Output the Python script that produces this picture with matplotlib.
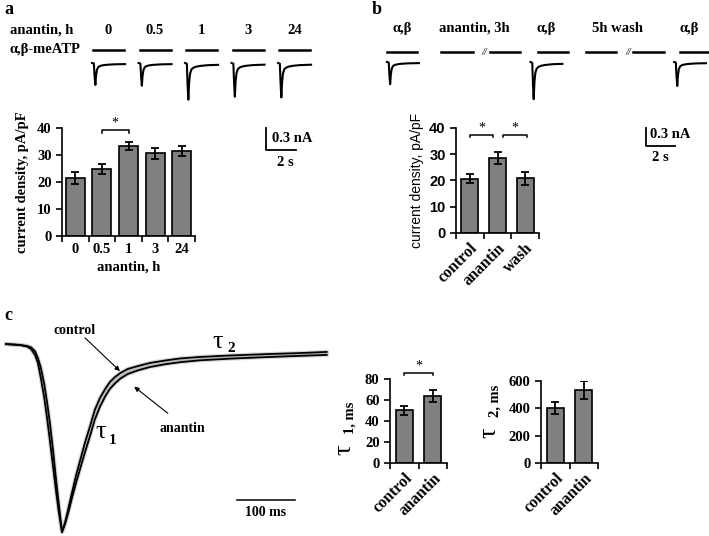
import numpy as np
import matplotlib.pyplot as plt

plt.rcParams['font.family'] = 'Liberation Serif'
plt.rcParams['font.weight'] = 'bold'
plt.rcParams['axes.labelweight'] = 'bold'
plt.rcParams['axes.linewidth'] = 1.2

W, H = 709, 536

# bar chart data
a_labels = ['0', '0.5', '1', '3', '24']
a_mean = [21.5, 24.8, 33.3, 30.6, 31.6]
a_sem = [2.2, 1.9, 1.4, 1.9, 1.9]

b_labels = ['control', 'anantin', 'wash']
b_mean = [20.7, 28.6, 20.9]
b_sem = [1.7, 2.3, 2.5]

tau_labels = ['control', 'anantin']
tau1_mean = [50.2, 64.0]
tau1_sem = [4.2, 5.8]
tau2_mean = [402, 532]
tau2_sem = [44, 66]

# example current traces (s, fraction of peak), peak amplitudes in nA
trace_t = [0, 0.12, 0.17, 0.22, 0.27, 0.33, 0.42, 0.55, 0.75, 1.0, 1.5, 2.2]
trace_shape = [0, -0.02, -0.6, -1.0, -0.55, -0.3, -0.18, -0.13, -0.1, -0.08, -0.06, -0.05]
a_amp = [0.30, 0.31, 0.50, 0.46, 0.47]
b_amp = [0.37, 0.62, 0.40]

# averaged traces panel c (ms, normalised current)
c_t = [0, 24, 36, 43, 50, 55, 60, 66, 71, 76, 81, 86, 91, 96.6, 102, 107, 114, 121, 128, 136, 145,
       153, 162, 171, 179, 188, 197, 210, 228, 248, 274, 300, 334, 386, 455, 507, 553]
c_control = [0.005, 0.0, -0.008, -0.021, -0.053, -0.096, -0.176, -0.283, -0.396, -0.519, -0.647,
             -0.775, -0.893, -1.0, -0.947, -0.882, -0.786, -0.695, -0.615, -0.524, -0.433, -0.348,
             -0.283, -0.235, -0.198, -0.171, -0.150, -0.128, -0.112, -0.096, -0.083, -0.072, -0.064,
             -0.056, -0.048, -0.043, -0.037]
c_anantin = [0.005, 0.0, -0.005, -0.012, -0.033, -0.07, -0.12, -0.21, -0.31, -0.425, -0.56,
             -0.71, -0.85, -1.0, -0.955, -0.90, -0.815, -0.735, -0.66, -0.575, -0.485, -0.40,
             -0.33, -0.275, -0.235, -0.205, -0.18, -0.155, -0.135, -0.118, -0.103, -0.092, -0.082,
             -0.073, -0.064, -0.058, -0.053]

fig = plt.figure(figsize=(W / 100, H / 100), dpi=100)


def px_axes(x0, y0, x1, y1):
    return fig.add_axes([x0 / W, 1 - y1 / H, (x1 - x0) / W, (y1 - y0) / H])


def bar_panel(rect, labels, mean, sem, ylim, yticks, width, rot=0, yfont=None):
    ax = px_axes(*rect)
    x = np.arange(len(labels))
    ax.bar(x, mean, width, color='#808080', edgecolor='black', linewidth=1.2,
           yerr=sem, capsize=3, error_kw=dict(elinewidth=1.3, capthick=1.3, ecolor='black'))
    ax.set_xlim(-0.5, len(labels) - 0.5)
    ax.set_ylim(*ylim)
    ax.set_yticks(yticks)
    for s in ['top', 'right']:
        ax.spines[s].set_visible(False)
    ax.set_xticks(np.arange(len(labels) + 1) - 0.5)
    ax.set_xticklabels([])
    if rot:
        ax.set_xticks(x, labels=labels, minor=True, rotation=rot, ha='right',
                      rotation_mode='anchor', fontsize=11.5)
    else:
        ax.set_xticks(x, labels=labels, minor=True, fontsize=10.5)
    ax.tick_params(axis='x', which='minor', length=0, pad=5)
    ax.tick_params(axis='both', which='major', direction='out', length=4, width=1.2, labelsize=10.5)
    if yfont:
        for t in ax.get_yticklabels():
            t.set_family(yfont)
    return ax


def bracket(ax, x1, x2, y, h, ystar):
    ax.plot([x1, x1, x2, x2], [y - h, y, y, y - h], color='black', lw=1.1, clip_on=False)
    ax.text((x1 + x2) / 2, ystar, '*', ha='center', va='center', fontsize=10, fontweight='normal')


# ---- panel a traces
sx, sy = 15.0, 22 / 0.3
ta = px_axes(85, 40, 325, 170)
ta.set_xlim(0, 240 / sx)
ta.set_ylim((63 - 170) / sy, (63 - 40) / sy)
ta.axis('off')
for i, amp in enumerate(a_amp):
    t0 = 0.47 + i * 3.1
    ta.plot(np.array(trace_t) + t0, np.array(trace_shape) * amp, color='black', lw=1.5)
    ta.plot([t0 + 0.07, t0 + 2.15], [13 / sy, 13 / sy], color='black', lw=1.8)
    ta.text(t0 + 1.1, 33 / sy, a_labels[i], ha='center', va='center', fontsize=10.5)
xs = (266 - 85) / sx
ta.plot([xs, xs, xs + 2], [(63 - 128) / sy, (63 - 150) / sy, (63 - 150) / sy], color='black', lw=1.3)
ta.text(xs + 0.4, (63 - 138) / sy, '0.3 nA', ha='left', va='center', fontsize=10.5)
ta.text(xs + 1.3, (63 - 162) / sy, '2 s', ha='center', va='center', fontsize=10.5)

# ---- panel b traces
sx, sy = 14.5, 18 / 0.3
tb = px_axes(380, 40, 709, 170)
tb.set_xlim(0, 329 / sx)
tb.set_ylim((62 - 170) / sy, (62 - 40) / sy)
tb.axis('off')
slot = 4.95
for i, amp in enumerate(b_amp):
    t0 = 0.48 + 2 * i * slot
    tb.plot(np.array(trace_t) + t0, np.array(trace_shape) * amp, color='black', lw=1.5)
segs = [(0, 2.05), (3.7, 5.9), (7.1, 9.2), (10.4, 12.5), (13.7, 15.8), (17.0, 19.1), (20.2, 22.3)]
for s0, s1 in segs:
    tb.plot([s0 + 0.48, s1 + 0.48], [10 / sy, 10 / sy], color='black', lw=1.8)
for k, lab in enumerate(['α,β', 'anantin, 3h', 'α,β', '5h wash', 'α,β']):
    tb.text(0.48 + 1.05 + k * slot, 34 / sy, lab, ha='center', va='center', fontsize=10.5)
for k in [1, 3]:
    tb.text(0.48 + 1.05 + k * slot + 0.75, 10 / sy, '//', ha='center', va='center',
            fontsize=7.5, fontweight='normal', style='italic')
xs = (646 - 380) / sx
tb.plot([xs, xs, xs + 2], [(62 - 128) / sy, (62 - 146) / sy, (62 - 146) / sy], color='black', lw=1.3)
tb.text(xs + 0.3, (62 - 134) / sy, '0.3 nA', ha='left', va='center', fontsize=10.5)
tb.text(xs + 1.0, (62 - 157) / sy, '2 s', ha='center', va='center', fontsize=10.5)

# ---- panel a bars
ax = bar_panel((62, 128, 195, 236), a_labels, a_mean, a_sem, (0, 40), [0, 10, 20, 30, 40], 0.72)
ax.set_xlabel('anantin, h', fontsize=10.5, labelpad=3)
ax.set_ylabel('current density, pA/pF', fontsize=10.5, labelpad=6)
bracket(ax, 1, 2, 39.3, 1.0, 41.8)

# ---- panel b bars
ax = bar_panel((456, 128, 539, 233), b_labels, b_mean, b_sem, (0, 40), [0, 10, 20, 30, 40], 0.62,
               rot=45, yfont='Liberation Sans')
ax.set_ylabel('current density, pA/pF', fontsize=10, fontweight='normal',
              family='Liberation Sans', labelpad=4)
bracket(ax, 0.0, 0.84, 37.3, 0.8, 39.8)
bracket(ax, 1.2, 2.05, 37.3, 0.8, 39.8)

# ---- tau bars
ax = bar_panel((390, 379, 447, 463), tau_labels, tau1_mean, tau1_sem, (0, 80), [0, 20, 40, 60, 80], 0.6, rot=45)
bracket(ax, 0, 1, 86, 2, 92)
ax = bar_panel((541, 381, 598, 463), tau_labels, tau2_mean, tau2_sem, (0, 600), [0, 200, 400, 600], 0.6, rot=45)

# ---- panel c traces
sx, sy = 0.58, 187.0
tc = px_axes(4, 338, 330, 536)
tc.set_xlim((4 - 6) / sx, (330 - 6) / sx)
tc.set_ylim((345 - 536) / sy, (345 - 338) / sy)
tc.axis('off')
tc.fill_between(c_t, c_control, c_anantin, color='#c8c8c8', lw=0)
tc.plot(c_t, c_control, color='#b0b0b0', lw=3.0, alpha=0.5)
tc.plot(c_t, c_anantin, color='#b0b0b0', lw=3.0, alpha=0.5)
tc.plot(c_t, c_control, color='black', lw=1.3)
tc.plot(c_t, c_anantin, color='black', lw=1.3)
x0 = (237 - 6) / sx
tc.plot([x0, x0 + 100], [(345 - 500) / sy] * 2, color='black', lw=1.1)
tc.text(x0 + 50, (345 - 513) / sy, '100 ms', ha='center', va='center', fontsize=10)

# ---- overlay: panel letters and annotations
ov = fig.add_axes([0, 0, 1, 1])
ov.set_xlim(0, W)
ov.set_ylim(H, 0)
ov.axis('off')
ov.patch.set_alpha(0)
ov.text(4, 10, 'a', fontsize=13, va='center')
ov.text(372, 10, 'b', fontsize=13, va='center')
ov.text(4, 316, 'c', fontsize=13, va='center')
ov.text(10, 30, 'anantin, h', fontsize=10.5, va='center')
ov.text(10, 50, 'α,β-meATP', fontsize=10.5, va='center')

ov.text(75, 330, 'control', fontsize=10, ha='center', va='center')
ov.annotate('', xy=(122, 373), xytext=(83, 336),
            arrowprops=dict(arrowstyle='-|>', color='black', lw=0.8, mutation_scale=7))
ov.text(182, 428, 'anantin', fontsize=10, ha='center', va='center')
ov.annotate('', xy=(132, 385), xytext=(170, 415),
            arrowprops=dict(arrowstyle='-|>', color='black', lw=0.8, mutation_scale=7))
ov.text(101, 432, 'τ', fontsize=19, fontweight='normal', ha='center', va='center')
ov.text(113, 440, '1', fontsize=11, ha='center', va='center')
ov.text(218, 342, 'τ', fontsize=19, fontweight='normal', ha='center', va='center')
ov.text(231, 348, '2', fontsize=11, ha='center', va='center')

ov.text(344, 450, 'τ', fontsize=19, fontweight='normal', rotation=90, ha='center', va='center')
ov.text(350, 418, '1, ms', fontsize=10.5, rotation=90, ha='center', va='center')
ov.text(489, 433, 'τ', fontsize=19, fontweight='normal', rotation=90, ha='center', va='center')
ov.text(495, 401, '2, ms', fontsize=10.5, rotation=90, ha='center', va='center')

fig.savefig('out.png', dpi=100)
